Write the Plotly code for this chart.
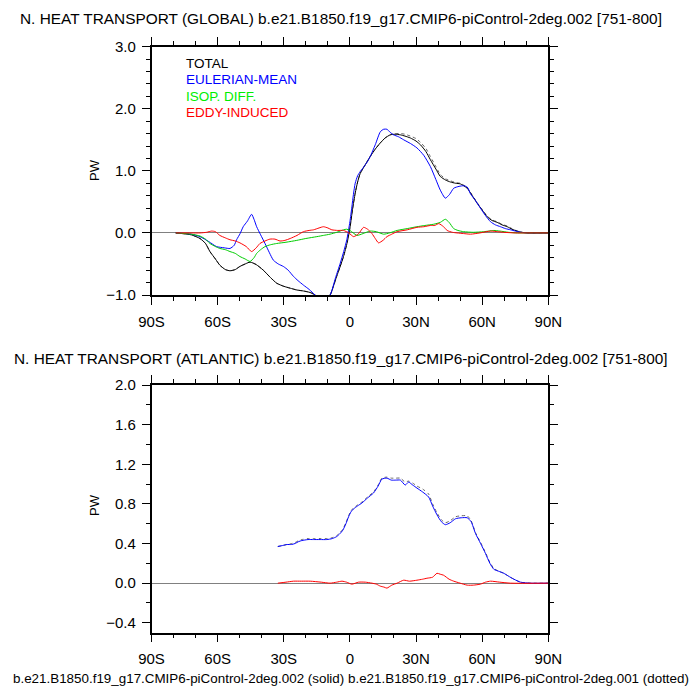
import plotly.graph_objects as go

# N. heat transport (PW), by latitude
glb_total_lat = [-79, -72, -68, -65.5, -63.5, -61, -59, -56.5, -54.4, -52, -49.9, -47.5, -45.3, -42.5, -39.3,
                 -36, -33.2, -30, -27.1, -24, -21.1, -18, -15.8, -12.5, -9, -7.5, -6, -4.5, -2.9, -1.2, 0.1,
                 1.2, 2.4, 3.5, 4.7, 7, 9.2, 11.5, 13.8, 16, 18.3, 20.5, 22.9, 25, 27.4, 30, 32, 34.5, 36.5,
                 39, 41, 43.5, 45.6, 48, 50.1, 53.2, 55.5, 57.7, 60, 62.3, 64.5, 66.8, 69, 71.4, 73.5, 75.9,
                 78, 80.5, 90]
glb_total = [0, -0.03, -0.09, -0.17, -0.30, -0.42, -0.52, -0.59, -0.61, -0.59, -0.54, -0.50, -0.47, -0.51, -0.60,
             -0.72, -0.81, -0.86, -0.89, -0.92, -0.935, -0.96, -1.0, -1.08, -1.0, -0.86, -0.70, -0.55, -0.38, -0.15,
             0.10, 0.38, 0.64, 0.82, 0.96, 1.10, 1.23, 1.35, 1.45, 1.53, 1.58, 1.59, 1.58, 1.56, 1.53, 1.48, 1.42,
             1.31, 1.18, 1.03, 0.91, 0.85, 0.82, 0.80, 0.79, 0.72, 0.60, 0.48, 0.37, 0.26, 0.20, 0.17, 0.13, 0.10,
             0.06, 0.03, 0.01, 0, 0]
glb_total_dot = [0, -0.03, -0.09, -0.17, -0.30, -0.42, -0.52, -0.59, -0.61, -0.59, -0.54, -0.50, -0.47, -0.51, -0.60,
                 -0.72, -0.81, -0.86, -0.89, -0.92, -0.935, -0.96, -1.0, -1.08, -1.0, -0.86, -0.70, -0.55, -0.38,
                 -0.15, 0.10, 0.38, 0.64, 0.82, 0.96, 1.10, 1.23, 1.35, 1.45, 1.53, 1.58, 1.60, 1.60, 1.59, 1.56,
                 1.52, 1.46, 1.36, 1.23, 1.07, 0.94, 0.87, 0.84, 0.81, 0.80, 0.73, 0.61, 0.49, 0.38, 0.27, 0.21,
                 0.18, 0.14, 0.11, 0.07, 0.03, 0.01, 0, 0]

glb_euler_lat = [-79, -72, -68, -64, -60.5, -57, -54.4, -52.5, -51.4, -49.8, -48.4, -46.5, -44.6, -43.5, -42.3,
                 -40.5, -38.5, -36.5, -34.7, -32.5, -30.2, -28, -25.6, -23.5, -21.1, -18.5, -15.8, -12.5, -9,
                 -6.5, -4.4, -2.8, -1.4, 0, 0.9, 1.6, 2.4, 3.5, 4.7, 5.8, 7, 8, 9.2, 11.5, 13.8, 15.3, 16.8,
                 18.3, 19.8, 22, 24.4, 27.5, 30.4, 33.5, 36.5, 39, 41, 43.3, 45.2, 47.1, 49.5, 51.6, 53.2, 54.7,
                 57, 59.2, 61.5, 63.8, 66, 68.3, 70.5, 72.9, 75, 77.4, 80.5, 90]
glb_euler = [0, -0.02, -0.06, -0.14, -0.22, -0.24, -0.25, -0.20, -0.11, -0.01, 0.10, 0.19, 0.30, 0.22, 0.10,
             -0.03, -0.17, -0.32, -0.44, -0.50, -0.54, -0.60, -0.70, -0.77, -0.84, -0.91, -1.0, -1.1, -1.0,
             -0.72, -0.49, -0.30, -0.11, 0.18, 0.42, 0.62, 0.80, 0.92, 0.99, 1.04, 1.10, 1.15, 1.23, 1.42, 1.63,
             1.67, 1.67, 1.62, 1.58, 1.55, 1.50, 1.44, 1.37, 1.25, 1.07, 0.86, 0.69, 0.56, 0.62, 0.72, 0.75,
             0.76, 0.74, 0.63, 0.52, 0.40, 0.28, 0.18, 0.13, 0.10, 0.07, 0.05, 0.03, 0.01, 0, 0]

glb_isop_lat = [-79, -72, -68, -65.5, -63.5, -61, -59, -56.5, -54.4, -52, -49.9, -47.5, -45.3, -43.5, -42.3,
                -40.5, -38.5, -36, -33.2, -29, -24.1, -20, -15, -12, -9, -6, -2.9, -1.5, 0, 1.5, 3.2, 6,
                9.2, 12, 15.3, 18, 21.4, 26, 30.4, 34, 38, 41, 43.3, 45, 47.1, 49, 51.6, 56, 60.7, 63, 65.3,
                68, 72, 76, 80, 90]
glb_isop = [0, -0.02, -0.05, -0.10, -0.17, -0.22, -0.25, -0.27, -0.30, -0.33, -0.38, -0.42, -0.46, -0.40, -0.33,
            -0.27, -0.22, -0.19, -0.17, -0.15, -0.12, -0.09, -0.06, -0.04, -0.02, 0.01, 0.05, 0.06, 0.04, 0.0,
            -0.04, -0.01, 0.03, 0.02, -0.02, 0.0, 0.04, 0.07, 0.10, 0.12, 0.14, 0.17, 0.22, 0.17, 0.07, 0.04,
            0.02, 0.01, 0.02, 0.03, 0.04, 0.03, 0.01, 0.0, 0, 0]

glb_eddy_lat = [-79, -72, -68, -65, -62.7, -61, -59, -56.5, -54.4, -52, -49.9, -47, -44.6, -42.5, -40.8,
                -38.5, -36.3, -34, -31.7, -29.5, -27.1, -24, -21.1, -18.5, -16.5, -14, -12, -10, -8.2, -5.5,
                -2.9, -0.5, 1.7, 4, 6.2, 8, 10, 11.5, 13, 15, 16.8, 19, 21.4, 26, 30.4, 33.5, 36.5, 38.5, 40.3,
                42.5, 44.1, 46.5, 48.6, 51.5, 54.7, 59, 63.8, 67, 69.8, 75, 80, 90]
glb_eddy = [0, 0, 0, 0.01, 0.03, 0.02, -0.04, -0.08, -0.11, -0.13, -0.16, -0.22, -0.30, -0.24, -0.17,
            -0.13, -0.10, -0.10, -0.13, -0.12, -0.09, -0.04, 0.02, 0.04, 0.05, 0.08, 0.10, 0.08, 0.05, 0.04,
            0.04, 0.0, -0.06, -0.01, 0.09, 0.06, -0.01, -0.09, -0.16, -0.12, -0.06, -0.02, 0.02, 0.05, 0.09,
            0.10, 0.12, 0.12, 0.15, 0.10, 0.04, 0.01, 0, -0.01, -0.02, 0.0, 0.03, 0.02, 0.01, 0.0, 0, 0]

atl_lat = [-32.7, -30.5, -28.6, -26.5, -24.9, -23.2, -21.8, -19, -16.5, -13.5, -10.5, -8, -6, -4.5, -3.2, -1.8,
           -0.6, 0.5, 1.7, 3.5, 5.5, 8, 10.7, 12.8, 14.5, 16.8, 18.8, 20.8, 22.9, 25.1, 26.6, 28.5, 30.4, 33,
           35.7, 37.5, 39.5, 41.5, 43.3, 45.5, 47.9, 50.5, 53.2, 55, 57, 59.3, 61.5, 63.5, 65.3, 67.5, 69.8,
           72, 74.4, 77.4, 82, 90]
atl_euler = [0.37, 0.38, 0.39, 0.39, 0.40, 0.42, 0.43, 0.44, 0.44, 0.44, 0.44, 0.45, 0.47, 0.50, 0.535, 0.60,
             0.67, 0.72, 0.75, 0.78, 0.81, 0.86, 0.91, 0.98, 1.05, 1.06, 1.04, 1.04, 1.04, 0.99, 1.02, 0.99,
             0.96, 0.92, 0.87, 0.78, 0.69, 0.62, 0.59, 0.61, 0.65, 0.66, 0.66, 0.62, 0.50, 0.40, 0.30, 0.20,
             0.14, 0.12, 0.10, 0.07, 0.04, 0.01, 0, 0]
atl_euler_dot = [0.37, 0.38, 0.39, 0.40, 0.41, 0.43, 0.44, 0.45, 0.45, 0.45, 0.45, 0.46, 0.48, 0.51, 0.545, 0.61,
                 0.68, 0.73, 0.76, 0.79, 0.82, 0.87, 0.92, 0.99, 1.06, 1.07, 1.06, 1.06, 1.06, 1.02, 1.03, 1.01,
                 0.98, 0.95, 0.90, 0.80, 0.71, 0.64, 0.61, 0.63, 0.67, 0.68, 0.68, 0.63, 0.51, 0.41, 0.31, 0.21,
                 0.15, 0.12, 0.10, 0.07, 0.04, 0.01, 0, 0]

atl_eddy_lat = [-32.7, -29, -25.6, -22, -18, -13, -9, -6, -3.6, -1.5, 0.9, 3.9, 7, 10, 12, 13.8, 15.5, 16.8,
                19, 21.4, 24.4, 27, 30.4, 33, 35, 37.5, 39.5, 41, 42.5, 45, 47.1, 50, 53.2, 56, 59.2, 61.5,
                63.8, 68, 72.9, 90]
atl_eddy = [0, 0.01, 0.02, 0.02, 0.02, 0.01, 0, 0.01, 0.02, 0.01, -0.01, 0.01, 0.01, 0, -0.01, -0.03, -0.04,
            -0.05, -0.02, 0, 0.03, 0.02, 0.03, 0.04, 0.05, 0.06, 0.10, 0.09, 0.08, 0.04, 0.02, 0.0, -0.02, -0.02,
            -0.01, 0.01, 0.02, 0.01, 0, 0]

lat_ticks = [-90, -60, -30, 0, 30, 60, 90]
lat_labels = ["90S", "60S", "30S", "0", "30N", "60N", "90N"]
glb_yticks = [-1.0, 0.0, 1.0, 2.0, 3.0]
atl_yticks = [-0.4, 0.0, 0.4, 0.8, 1.2, 1.6, 2.0]

case_solid = "b.e21.B1850.f19_g17.CMIP6-piControl-2deg.002"
case_dot = "b.e21.B1850.f19_g17.CMIP6-piControl-2deg.001"

FONT = "Liberation Sans"
# the page puts the figure 8px in from the top-left corner, so lay out in window pixels minus that
OFF = 8
W, H = 692, 692


def px(x):
    return (x - OFF) / W


def py(y):
    return 1 - (y - OFF) / H


fig = go.Figure()


def line(x, y, color, ax, dash="solid", width=1):
    fig.add_trace(go.Scatter(x=x, y=y, mode="lines", xaxis=ax[0], yaxis=ax[1],
                             line=dict(color=color, width=width, dash=dash, shape="spline", smoothing=0.6),
                             showlegend=False, hoverinfo="skip"))


# global panel
top = ("x", "y")
line(glb_total_lat, glb_total_dot, "#666666", top, dash="dot")
line(glb_total_lat, glb_total, "black", top)
line(glb_euler_lat, glb_euler, "blue", top)
line(glb_isop_lat, glb_isop, "#00cc00", top)
line(glb_eddy_lat, glb_eddy, "red", top)

# atlantic panel
bot = ("x2", "y2")
line(atl_lat, atl_euler_dot, "#666666", bot, dash="dot")
line(atl_lat, atl_euler, "blue", bot)
line(atl_eddy_lat, atl_eddy, "red", bot)

xdom = [px(151.5), px(548.3)]
axis_common = dict(showline=True, linecolor="black", linewidth=1.5, mirror="ticks",
                   ticks="outside", tickcolor="black", tickwidth=1.2, ticklen=8, automargin=False,
                   showgrid=False, tickfont=dict(family=FONT, size=15, color="black"))
xcommon = dict(axis_common, range=[-90, 90], tickvals=lat_ticks, ticktext=lat_labels,
               zeroline=False, domain=xdom, ticklabelstandoff=4,
               minor=dict(dtick=10, ticks="outside", ticklen=4, tickcolor="black", tickwidth=1))

fig.update_layout(
    width=W, height=H,
    margin=dict(l=0, r=0, t=0, b=0),
    paper_bgcolor="white", plot_bgcolor="white",
    xaxis=dict(xcommon, anchor="y"),
    yaxis=dict(axis_common, range=[-1.0, 3.0], tickvals=glb_yticks, tickformat=".1f",
               domain=[py(295), py(46.7)], anchor="x", ticklabelstandoff=3,
               zeroline=True, zerolinecolor="#808080", zerolinewidth=1,
               minor=dict(dtick=0.2, ticks="outside", ticklen=4, tickcolor="black", tickwidth=1)),
    xaxis2=dict(xcommon, anchor="y2"),
    yaxis2=dict(axis_common, range=[-0.5, 2.0], tickvals=atl_yticks, tickformat=".1f",
                domain=[py(632.7), py(385)], anchor="x2", ticklabelstandoff=3,
                zeroline=True, zerolinecolor="#808080", zerolinewidth=1,
                minor=dict(tick0=0, dtick=0.2, ticks="outside", ticklen=4, tickcolor="black", tickwidth=1)),
)


def text_at(s, x, y, size, angle=0):
    return dict(text=s, x=px(x), y=py(y), xref="paper", yref="paper", xanchor="center", yanchor="middle",
                showarrow=False, textangle=angle, font=dict(family=FONT, size=size, color="black"))


ann = [
    text_at(f"N. HEAT TRANSPORT (GLOBAL) {case_solid} [751-800]", 341, 18, 15.4),
    text_at(f"N. HEAT TRANSPORT (ATLANTIC) {case_solid} [751-800]", 341, 358, 15.4),
    text_at(f"{case_solid} (solid) {case_dot} (dotted)", 351, 678, 13.4),
    text_at("PW", 94, 170, 13, angle=-90),
    text_at("PW", 94, 505, 13, angle=-90),
]

legend_items = [("TOTAL", "black"), ("EULERIAN-MEAN", "blue"), ("ISOP. DIFF.", "#00ee00"),
                ("EDDY-INDUCED", "red")]
for i, (name, col) in enumerate(legend_items):
    ann.append(dict(text=name, x=0.082, y=0.934 - i * 0.067, xref="x domain", yref="y domain",
                    xanchor="left", yanchor="middle", showarrow=False,
                    font=dict(family=FONT, size=13.5, color=col)))

fig.update_layout(annotations=ann)
fig.write_html("out.html")
